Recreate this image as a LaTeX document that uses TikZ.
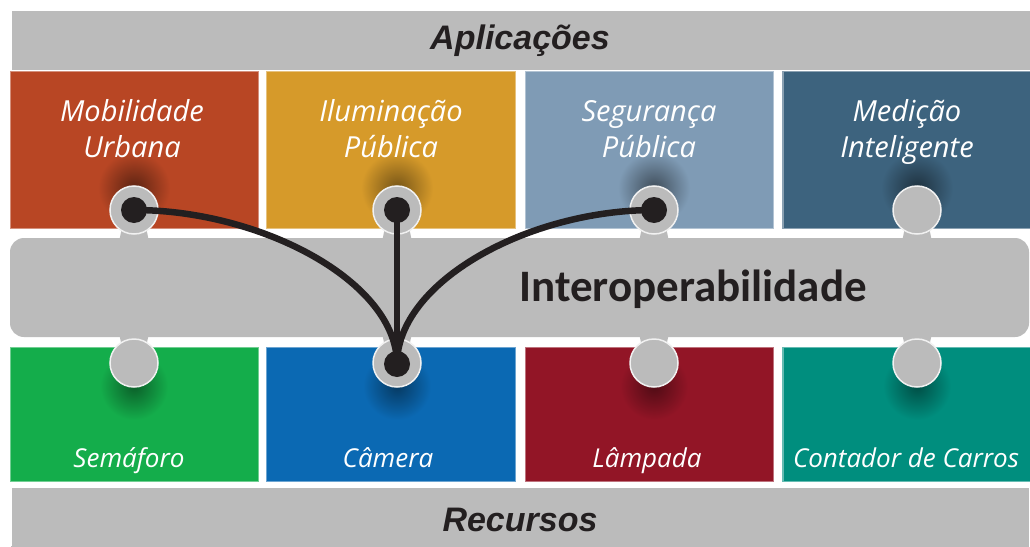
\documentclass[tikz,border=0pt]{standalone}
\usepackage{fontspec}
\setmainfont{Open Sans}
\newfontfamily\labfont{Open Sans}
\newfontfamily\carlfont{Carlito}
\newfontfamily\arlfont{Liberation Sans}
\definecolor{cMob}{HTML}{B84624}
\definecolor{cIlu}{HTML}{D69A2A}
\definecolor{cSeg}{HTML}{7F9BB5}
\definecolor{cMed}{HTML}{3D637E}
\definecolor{cSem}{HTML}{14AD4B}
\definecolor{cCam}{HTML}{0B69B3}
\definecolor{cLam}{HTML}{921526}
\definecolor{cCon}{HTML}{008E7E}
\definecolor{cGray}{HTML}{BBBBBB}
\definecolor{cInk}{HTML}{231F20}
\tikzset{
  bar/.style={fill=cGray, draw=none, inner sep=0pt},
  box/.style={rectangle, inner sep=0pt, line width=1.5pt},
  toplabel/.style={text=white, align=center, anchor=base, inner sep=0pt,
    font=\labfont\itshape\fontsize{29}{36}\selectfont},
  botlabel/.style={text=white, anchor=base, inner sep=0pt,
    font=\labfont\itshape\fontsize{26}{30}\selectfont},
  port/.style={circle, fill=cGray, draw=white!80!cGray, line width=1.5pt, minimum size=48pt, inner sep=0pt},
  dot/.style={circle, fill=cInk, minimum size=26pt, inner sep=0pt},
  neck/.style={fill=cGray, draw=none},
  wire/.style={draw=cInk, line width=6.5pt, line cap=round},
}
\begin{document}
\begin{tikzpicture}[x=1pt,y=-1pt]
\useasboundingbox (0,0) rectangle (1030,546);
\fill[white] (0,0) rectangle (1030,546);

% top bar
\node[bar, minimum width=1020pt, minimum height=59pt,
  font=\arlfont\bfseries\itshape\fontsize{34}{40}\selectfont, text=cInk] (apl) at (520,40.5) {Aplicações};
\draw[white, line width=1.5pt] (10.8,11) -- (10.8,70);

% top boxes
\node[box, fill=cMob, draw=cMob!60!white, minimum width=248pt, minimum height=157pt] (mob) at (134.5,150) {};
\node[box, fill=cIlu, draw=cIlu!60!white, minimum width=249pt, minimum height=157pt] (ilu) at (391,150) {};
\node[box, fill=cSeg, draw=cSeg!60!white, minimum width=248pt, minimum height=157pt] (seg) at (649.5,150) {};
\node[box, fill=cMed, draw=cMed!60!white, minimum width=248pt, minimum height=157pt] (med) at (907,150) {};

% bottom boxes
\node[box, fill=cSem, draw=cSem!60!white, minimum width=248pt, minimum height=134pt] (sem) at (134.5,414.5) {};
\node[box, fill=cCam, draw=cCam!60!white, minimum width=249pt, minimum height=134pt] (cam) at (391,414.5) {};
\node[box, fill=cLam, draw=cLam!60!white, minimum width=248pt, minimum height=134pt] (lam) at (649.5,414.5) {};
\node[box, fill=cCon, draw=cCon!60!white, minimum width=248pt, minimum height=134pt] (con) at (907,414.5) {};

% shadows of the ports
\shade[inner color=cMob!50!black, outer color=cMob] (134,188) circle (36);
\shade[inner color=cIlu!55!black, outer color=cIlu] (397,188) circle (36);
\shade[inner color=cSeg!50!black, outer color=cSeg] (654,188) circle (36);
\shade[inner color=cMed!50!black, outer color=cMed] (917,188) circle (36);
\shade[inner color=cSem!55!black, outer color=cSem] (134,386) circle (34);
\shade[inner color=cCam!55!black, outer color=cCam] (397,386) circle (34);
\shade[inner color=cLam!55!black, outer color=cLam] (654,386) circle (34);
\shade[inner color=cCon!55!black, outer color=cCon] (917,386) circle (34);

% labels
\node[toplabel] (tmob) at (132,157) {Mobilidade\\Urbana};
\node[toplabel] (tilu) at (391,157) {Iluminação\\Pública};
\node[toplabel] (tseg) at (649,157) {Segurança\\Pública};
\node[toplabel] (tmed) at (907,157) {Medição\\Inteligente};
\node[botlabel] (tsem) at (129,467) {Semáforo};
\node[botlabel] (tcam) at (388,467) {Câmera};
\node[botlabel] (tlam) at (647,467) {Lâmpada};
\node[botlabel] (tcon) at (906,467) {Contador de Carros};

% middle bar
\node[bar, rounded corners=14pt, minimum width=1019pt, minimum height=99pt] (intr) at (519.5,287.5) {};
\node[font=\carlfont\bfseries\fontsize{45}{50}\selectfont, text=cInk, inner sep=0pt] (intrtxt) at (693,289) {Interoperabilidade};

% bottom bar
\node[bar, minimum width=1018pt, minimum height=64pt,
  font=\arlfont\bfseries\itshape\fontsize{34}{40}\selectfont, text=cInk] (rec) at (520,520) {Recursos};
\draw[white, line width=1.5pt] (10.8,488) -- (10.8,546);

% necks
\foreach \x in {134,397,654,917} {
  \fill[neck] (\x-11,222) -- (\x+11,222) -- (\x+15,242) -- (\x-15,242) -- cycle;
  \fill[neck] (\x-15,333) -- (\x+15,333) -- (\x+11,352) -- (\x-11,352) -- cycle;
}

% ports
\node[port] (p1) at (134,210) {};
\node[port] (p2) at (397,210) {};
\node[port] (p3) at (654,210) {};
\node[port] (p4) at (917,210) {};
\node[port] (q1) at (134,363) {};
\node[port] (q2) at (397,363) {};
\node[port] (q3) at (654,363) {};
\node[port] (q4) at (917,363) {};

% dots
\node[dot] (d1) at (134,210) {};
\node[dot] (d2) at (397,210) {};
\node[dot] (d3) at (654,210) {};
\node[dot] (dc) at (397,364) {};

% wires
\draw[wire] (d1.center) .. controls (262,210) and (397,282) .. (dc.center);
\draw[wire] (d2.center) -- (dc.center);
\draw[wire] (d3.center) .. controls (528,210) and (397,282) .. (dc.center);
\end{tikzpicture}
\end{document}
